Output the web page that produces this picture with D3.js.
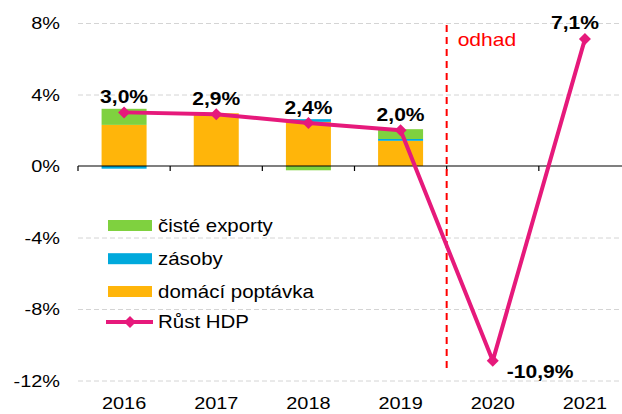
<!DOCTYPE html>
<html>
<head>
<meta charset="utf-8">
<script src="https://cdn.jsdelivr.net/npm/d3@7"></script>
<style>
  body { margin: 0; background: #fff; }
  svg { display: block; font-family: "Liberation Sans", Arial, sans-serif; }
</style>
</head>
<body>
<div id="chart"></div>
<script>
// data
var years = ["2016", "2017", "2018", "2019", "2020", "2021"];
var domesticDemand = [2.3, 2.95, 2.47, 1.41, 0, 0];
var inventories = [-0.15, 0, 0.15, 0.1, 0, 0];
var netExports = [0.9, 0, -0.24, 0.55, 0, 0];
var gdpGrowth = [3.0, 2.9, 2.4, 2.0, -10.9, 7.1];
var gdpLabels = ["3,0%", "2,9%", "2,4%", "2,0%", "-10,9%", "7,1%"];
var yTicks = [-12, -8, -4, 0, 4, 8];

var width = 622, height = 414;
var stretch = 1.17; // text in the picture is a bit wide

var svg = d3.select("#chart").append("svg")
    .attr("width", width)
    .attr("height", height);

var x = d3.scaleBand()
    .domain(years)
    .range([78, 631]);

var y = d3.scaleLinear()
    .domain([-12, 8])
    .range([380.5, 23]);

// gridlines
svg.append("g")
    .attr("transform", "translate(78,0)")
    .call(d3.axisLeft(y).tickValues(yTicks.filter(function(d){ return d != 0; }))
        .tickSize(-(width - 78)).tickFormat(""))
    .call(function(g){
        g.select(".domain").remove();
        g.selectAll("line")
            .attr("stroke", "#d4d4d4")
            .attr("stroke-dasharray", "5,3");
    });

// y labels
svg.append("g")
    .attr("transform", "translate(60,0)")
    .call(d3.axisLeft(y).tickValues(yTicks).tickSize(0).tickPadding(0)
        .tickFormat(function(d){ return d + "%"; }))
    .call(function(g){
        g.select(".domain").remove();
        g.selectAll("text")
            .attr("font-size", 17)
            .attr("font-family", "Liberation Sans, Arial, sans-serif")
            .attr("fill", "#000")
            .attr("dy", "0.35em")
            .attr("transform", "scale(" + stretch + ",1)");
    });

// stacked bars
var table = years.map(function(yr, i){
    return { year: yr, domestic: domesticDemand[i], inventories: inventories[i], exports: netExports[i] };
});
var keys = ["domestic", "inventories", "exports"];
var colors = { domestic: "#ffb50a", inventories: "#00a9dc", exports: "#7fd13f" };
var stack = d3.stack().keys(keys).offset(d3.stackOffsetDiverging);
var series = stack(table);

var barW = 45;
svg.append("g").selectAll("g")
    .data(series)
    .enter().append("g")
    .attr("fill", function(d){ return colors[d.key]; })
    .selectAll("rect")
    .data(function(d){ return d; })
    .enter().append("rect")
    .attr("x", function(d){ return x(d.data.year) + x.bandwidth() / 2 - barW / 2; })
    .attr("width", barW)
    .attr("y", function(d){ return y(Math.max(d[0], d[1])); })
    .attr("height", function(d){ return Math.abs(y(d[0]) - y(d[1])); });

// zero axis with ticks at category boundaries
svg.append("line")
    .attr("x1", 78).attr("x2", width)
    .attr("y1", y(0)).attr("y2", y(0))
    .attr("stroke", "#000").attr("stroke-width", 1.2);
var bounds = years.map(function(d){ return x(d); }).concat([x.range()[1]]);
svg.append("g").selectAll("line")
    .data(bounds)
    .enter().append("line")
    .attr("x1", function(d){ return d; }).attr("x2", function(d){ return d; })
    .attr("y1", y(0)).attr("y2", y(0) + 5)
    .attr("stroke", "#000").attr("stroke-width", 1.2);

// x labels
svg.append("g")
    .attr("transform", "translate(0,409)")
    .call(d3.axisBottom(x).tickSize(0).tickPadding(0))
    .call(function(g){
        g.select(".domain").remove();
        g.selectAll("text")
            .attr("font-size", 17)
            .attr("font-family", "Liberation Sans, Arial, sans-serif")
            .attr("fill", "#000")
            .attr("y", 0).attr("dy", 0)
            .attr("transform", "scale(" + stretch + ",1)");
    });

// forecast divider
var split = x("2020");
svg.append("line")
    .attr("x1", split).attr("x2", split)
    .attr("y1", 25).attr("y2", 368)
    .attr("stroke", "#ff0000").attr("stroke-width", 2)
    .attr("stroke-dasharray", "7,5");
svg.append("text")
    .attr("transform", "translate(" + (split + 11) + ",46) scale(" + stretch + ",1)")
    .attr("font-size", 18)
    .attr("fill", "#ff0000")
    .text("odhad");

// GDP line
var pink = "#e6197b";
var cx = function(i){ return x(years[i]) + x.bandwidth() / 2; };
var line = d3.line()
    .x(function(d, i){ return cx(i); })
    .y(function(d){ return y(d); });
svg.append("path")
    .datum(gdpGrowth)
    .attr("d", line)
    .attr("fill", "none")
    .attr("stroke", pink)
    .attr("stroke-width", 4)
    .attr("stroke-linejoin", "round");

var diamond = "M0,-6L6,0L0,6L-6,0Z";
svg.append("g").selectAll("path")
    .data(gdpGrowth)
    .enter().append("path")
    .attr("d", diamond)
    .attr("fill", pink)
    .attr("transform", function(d, i){ return "translate(" + cx(i) + "," + y(d) + ")"; });

// value labels
var labelPos = function(d, i){
    if (i == 4) return { x: cx(i) + 14, y: y(d) + 17, anchor: "start" };
    if (i == 5) return { x: cx(i) - 10, y: y(d) - 10, anchor: "middle" };
    return { x: cx(i), y: y(d) - 9, anchor: "middle" };
};
svg.append("g").selectAll("text")
    .data(gdpGrowth)
    .enter().append("text")
    .attr("transform", function(d, i){
        var p = labelPos(d, i);
        return "translate(" + p.x + "," + p.y + ") scale(" + stretch + ",1)";
    })
    .attr("text-anchor", function(d, i){ return labelPos(d, i).anchor; })
    .attr("font-size", 18)
    .attr("font-weight", "bold")
    .attr("fill", "#000")
    .text(function(d, i){ return gdpLabels[i]; });

// legend
var legendItems = [
    { label: "čisté exporty", color: colors.exports, cy: 225.5 },
    { label: "zásoby", color: colors.inventories, cy: 258.7 },
    { label: "domácí poptávka", color: colors.domestic, cy: 291.5 },
    { label: "Růst HDP", color: pink, cy: 322, isLine: true }
];
var leg = svg.append("g").selectAll("g")
    .data(legendItems)
    .enter().append("g")
    .attr("transform", function(d){ return "translate(108," + d.cy + ")"; });
leg.filter(function(d){ return !d.isLine; }).append("rect")
    .attr("x", 0).attr("y", -5.5)
    .attr("width", 44).attr("height", 11)
    .attr("fill", function(d){ return d.color; });
var lineItem = leg.filter(function(d){ return d.isLine; });
lineItem.append("line")
    .attr("x1", -2).attr("x2", 45)
    .attr("stroke", pink).attr("stroke-width", 4);
lineItem.append("path")
    .attr("d", diamond)
    .attr("fill", pink)
    .attr("transform", "translate(22,0)");
leg.append("text")
    .attr("transform", "translate(50,0) scale(" + stretch + ",1)")
    .attr("dy", "0.35em")
    .attr("font-size", 17.5)
    .attr("fill", "#000")
    .text(function(d){ return d.label; });
</script>
</body>
</html>
